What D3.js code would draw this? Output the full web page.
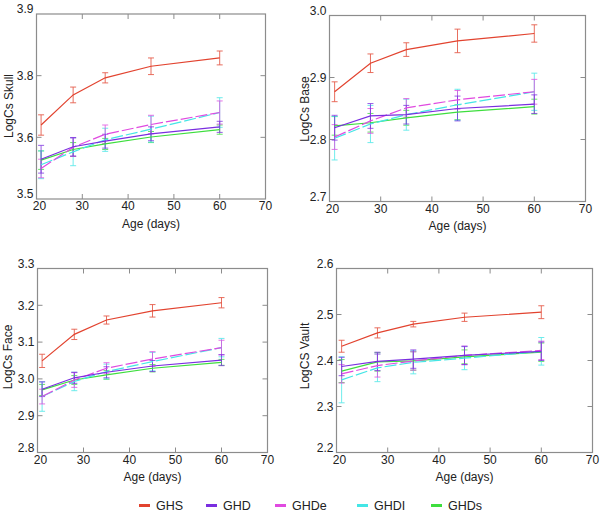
<!DOCTYPE html>
<html>
<head>
<meta charset="utf-8">
<script src="https://cdn.jsdelivr.net/npm/d3@7"></script>
<style>
  body { margin: 0; background: #fff; }
  svg { display: block; }
  text { font-family: "Liberation Sans", Arial, Helvetica, sans-serif; fill: #222; }
</style>
</head>
<body>
<svg id="chart" width="600" height="515"></svg>
<script>
// ---------------- DATA ----------------
const ages = [21, 28, 35, 45, 60];
const seriesNames = ["GHS", "GHD", "GHDe", "GHDl", "GHDs"];
const legendLabels = ["GHS", "GHD", "GHDe", "GHDI", "GHDs"];
const xTicks = [20, 30, 40, 50, 60, 70];
const xTitle = "Age (days)";

const panelTitles = ["LogCs Skull", "LogCs Base", "LogCs Face", "LogCS Vault"];
const yDomains = [[3.5, 3.9], [2.7, 3.0], [2.8, 3.3], [2.2, 2.6]];
const yTickLabels = [
  ["3.5", "3.6", "3.8", "3.9"],
  ["2.7", "2.8", "2.9", "3.0"],
  ["2.8", "2.9", "3.0", "3.1", "3.2", "3.3"],
  ["2.2", "2.3", "2.4", "2.5", "2.6"]
];

// Skull
const skullGHS  = [3.660, 3.725, 3.762, 3.787, 3.805];
const skullGHD  = [3.586, 3.613, 3.625, 3.641, 3.656];
const skullGHDe = [3.566, 3.612, 3.640, 3.661, 3.687];
const skullGHDl = [3.574, 3.602, 3.628, 3.651, 3.687];
const skullGHDs = [3.584, 3.607, 3.619, 3.634, 3.650];
const skullErrGHS  = [0.022, 0.017, 0.011, 0.018, 0.015];
const skullErrGHD  = [0.030, 0.020, 0.015, 0.015, 0.012];
const skullErrGHDe = [0.020, 0.020, 0.020, 0.020, 0.025];
const skullErrGHDl = [0.030, 0.030, 0.025, 0.028, 0.032];
const skullErrGHDs = [0.020, 0.015, 0.012, 0.012, 0.010];

// Base
const baseGHS  = [2.877, 2.923, 2.945, 2.959, 2.971];
const baseGHD  = [2.819, 2.838, 2.840, 2.850, 2.857];
const baseGHDe = [2.804, 2.830, 2.851, 2.864, 2.877];
const baseGHDl = [2.802, 2.825, 2.840, 2.856, 2.877];
const baseGHDs = [2.822, 2.827, 2.835, 2.844, 2.853];
const baseErrGHS  = [0.016, 0.015, 0.011, 0.019, 0.014];
const baseErrGHD  = [0.020, 0.020, 0.015, 0.020, 0.015];
const baseErrGHDe = [0.020, 0.020, 0.015, 0.015, 0.020];
const baseErrGHDl = [0.035, 0.030, 0.025, 0.025, 0.030];
const baseErrGHDs = [0.015, 0.015, 0.012, 0.012, 0.012];

// Face
const faceGHS  = [3.049, 3.121, 3.160, 3.185, 3.207];
const faceGHD  = [2.972, 3.003, 3.018, 3.035, 3.051];
const faceGHDe = [2.952, 2.997, 3.029, 3.054, 3.085];
const faceGHDl = [2.952, 2.993, 3.020, 3.047, 3.085];
const faceGHDs = [2.970, 2.997, 3.011, 3.029, 3.045];
const faceErrGHS  = [0.018, 0.014, 0.011, 0.017, 0.014];
const faceErrGHD  = [0.020, 0.015, 0.015, 0.015, 0.015];
const faceErrGHDe = [0.020, 0.020, 0.015, 0.020, 0.020];
const faceErrGHDl = [0.040, 0.025, 0.020, 0.025, 0.025];
const faceErrGHDs = [0.015, 0.012, 0.012, 0.010, 0.008];

// Vault
const vaultGHS  = [2.431, 2.460, 2.479, 2.494, 2.505];
const vaultGHD  = [2.387, 2.398, 2.403, 2.411, 2.420];
const vaultGHDe = [2.371, 2.389, 2.399, 2.411, 2.422];
const vaultGHDl = [2.358, 2.384, 2.396, 2.405, 2.420];
const vaultGHDs = [2.377, 2.397, 2.399, 2.408, 2.418];
const vaultErrGHS  = [0.013, 0.011, 0.006, 0.009, 0.014];
const vaultErrGHD  = [0.020, 0.020, 0.020, 0.020, 0.020];
const vaultErrGHDe = [0.020, 0.025, 0.020, 0.020, 0.020];
const vaultErrGHDl = [0.050, 0.030, 0.025, 0.025, 0.030];
const vaultErrGHDs = [0.025, 0.020, 0.020, 0.015, 0.020];

// ---------------- STYLE / LAYOUT ----------------
const colors = { GHS: "#e2432f", GHD: "#7a2ee0", GHDe: "#e04ae0", GHDl: "#44e6e6", GHDs: "#3ede3e" };
const dashes = { GHS: null, GHD: null, GHDe: "12,3", GHDl: "12,3", GHDs: null };
const drawOrder = ["GHDs", "GHDl", "GHDe", "GHD", "GHS"];

const panelValues = [
  { GHS: skullGHS, GHD: skullGHD, GHDe: skullGHDe, GHDl: skullGHDl, GHDs: skullGHDs },
  { GHS: baseGHS, GHD: baseGHD, GHDe: baseGHDe, GHDl: baseGHDl, GHDs: baseGHDs },
  { GHS: faceGHS, GHD: faceGHD, GHDe: faceGHDe, GHDl: faceGHDl, GHDs: faceGHDs },
  { GHS: vaultGHS, GHD: vaultGHD, GHDe: vaultGHDe, GHDl: vaultGHDl, GHDs: vaultGHDs }
];
const panelErrors = [
  { GHS: skullErrGHS, GHD: skullErrGHD, GHDe: skullErrGHDe, GHDl: skullErrGHDl, GHDs: skullErrGHDs },
  { GHS: baseErrGHS, GHD: baseErrGHD, GHDe: baseErrGHDe, GHDl: baseErrGHDl, GHDs: baseErrGHDs },
  { GHS: faceErrGHS, GHD: faceErrGHD, GHDe: faceErrGHDe, GHDl: faceErrGHDl, GHDs: faceErrGHDs },
  { GHS: vaultErrGHS, GHD: vaultErrGHD, GHDe: vaultErrGHDe, GHDl: vaultErrGHDl, GHDs: vaultErrGHDs }
];

const frames = [
  { left: 36.5, right: 265.5, top: 14, bottom: 199, titleX: 9, titleY: 106 },
  { left: 329.5, right: 585.5, top: 15.5, bottom: 201.5, titleX: 305, titleY: 109 },
  { left: 37.5, right: 267.5, top: 268.5, bottom: 452.5, titleX: 8, titleY: 357 },
  { left: 336.5, right: 592.5, top: 268.5, bottom: 452.5, titleX: 305, titleY: 356 }
];

const svg = d3.select("#chart");
const frameColor = "#8c8c8c";
const tickLen = 5;

frames.forEach((f, p) => {
  const g = svg.append("g");
  const x = d3.scaleLinear().domain([20, 70]).range([f.left, f.right]);
  const y = d3.scaleLinear().domain(yDomains[p]).range([f.bottom, f.top]);
  const labels = yTickLabels[p];
  const n = labels.length;
  const [lo, hi] = yDomains[p];
  const yTicks = d3.range(n).map(i => lo + i * (hi - lo) / (n - 1));

  // frame
  g.append("rect")
    .attr("x", f.left).attr("y", f.top)
    .attr("width", f.right - f.left).attr("height", f.bottom - f.top)
    .attr("fill", "none").attr("stroke", frameColor).attr("stroke-width", 1.2);

  // inward ticks on all four sides
  const xt = xTicks.slice(1, -1);
  g.selectAll(".xtb").data(xt).enter().append("line")
    .attr("x1", d => x(d)).attr("x2", d => x(d))
    .attr("y1", f.bottom).attr("y2", f.bottom - tickLen)
    .attr("stroke", frameColor);
  g.selectAll(".xtt").data(xt).enter().append("line")
    .attr("x1", d => x(d)).attr("x2", d => x(d))
    .attr("y1", f.top).attr("y2", f.top + tickLen)
    .attr("stroke", frameColor);
  const yt = yTicks.slice(1, -1);
  g.selectAll(".ytl").data(yt).enter().append("line")
    .attr("x1", f.left).attr("x2", f.left + tickLen)
    .attr("y1", d => y(d)).attr("y2", d => y(d))
    .attr("stroke", frameColor);
  g.selectAll(".ytr").data(yt).enter().append("line")
    .attr("x1", f.right).attr("x2", f.right - tickLen)
    .attr("y1", d => y(d)).attr("y2", d => y(d))
    .attr("stroke", frameColor);

  // x tick labels
  g.selectAll(".xl").data(xTicks).enter().append("text")
    .attr("x", (d, i) => x(d) + (i === 0 ? 3 : 0))
    .attr("y", f.bottom + 11)
    .attr("text-anchor", "middle")
    .attr("font-size", 12)
    .text(d => d);

  // y tick labels (end labels sit above their tick)
  g.selectAll(".yl").data(yTicks).enter().append("text")
    .attr("x", f.left - 3)
    .attr("y", d => y(d))
    .attr("dy", (d, i) => (i === 0 || i === n - 1) ? "-0.05em" : "0.35em")
    .attr("text-anchor", "end")
    .attr("font-size", 12)
    .text((d, i) => labels[i]);

  // axis titles
  g.append("text")
    .attr("x", (f.left + f.right) / 2).attr("y", f.bottom + 28.5)
    .attr("text-anchor", "middle").attr("font-size", 12)
    .text(xTitle);
  g.append("text")
    .attr("transform", `translate(${f.titleX},${f.titleY}) rotate(-90)`)
    .attr("text-anchor", "middle").attr("dy", "0.35em").attr("font-size", 12)
    .text(panelTitles[p]);

  // error bars
  drawOrder.forEach(s => {
    const vals = panelValues[p][s];
    const errs = panelErrors[p][s];
    const pts = ages.map((a, i) => ({ a, v: vals[i], e: errs[i] }));
    const c = colors[s];
    const eb = g.append("g").attr("opacity", 0.85);
    eb.selectAll("line.v").data(pts).enter().append("line")
      .attr("x1", d => x(d.a)).attr("x2", d => x(d.a))
      .attr("y1", d => y(d.v - d.e)).attr("y2", d => y(d.v + d.e))
      .attr("stroke", c).attr("stroke-width", 0.9);
    [-1, 1].forEach(sg => {
      eb.selectAll("line.c" + (sg > 0 ? "p" : "m")).data(pts).enter().append("line")
        .attr("x1", d => x(d.a) - 3).attr("x2", d => x(d.a) + 3)
        .attr("y1", d => y(d.v + sg * d.e)).attr("y2", d => y(d.v + sg * d.e))
        .attr("stroke", c).attr("stroke-width", 0.9);
    });
  });
  // lines
  drawOrder.forEach(s => {
    const vals = panelValues[p][s];
    const line = d3.line().x((d, i) => x(ages[i])).y(d => y(d));
    g.append("path")
      .attr("d", line(vals))
      .attr("fill", "none")
      .attr("stroke", colors[s])
      .attr("stroke-width", 1.2)
      .attr("stroke-dasharray", dashes[s]);
  });
});

// legend
const legendX = [139, 206, 275, 357, 431];
const lg = svg.append("g");
seriesNames.forEach((s, i) => {
  lg.append("line")
    .attr("x1", legendX[i]).attr("x2", legendX[i] + 11)
    .attr("y1", 505.5).attr("y2", 505.5)
    .attr("stroke", colors[s]).attr("stroke-width", 3);
  lg.append("text")
    .attr("x", legendX[i] + 17).attr("y", 505.5).attr("dy", "0.36em")
    .attr("font-size", 12.5)
    .text(legendLabels[i]);
});
</script>
</body>
</html>
